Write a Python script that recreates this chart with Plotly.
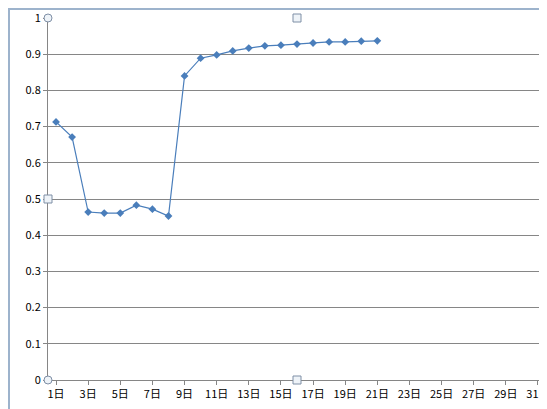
import plotly.graph_objects as go

days = [f"{i}日" for i in range(1, 32)]
values = [0.713, 0.671, 0.464, 0.461, 0.461, 0.483, 0.472, 0.453, 0.840, 0.889,
          0.898, 0.909, 0.917, 0.923, 0.925, 0.928, 0.931, 0.934, 0.934, 0.936, 0.937]
tick_labels = [days[i] for i in range(0, 31, 2)]
y_ticks = [i / 10 for i in range(11)]
y_labels = ["0", "0.1", "0.2", "0.3", "0.4", "0.5", "0.6", "0.7", "0.8", "0.9", "1"]

fig = go.Figure(go.Scatter(
    x=days[:len(values)], y=values, mode="lines+markers",
    line=dict(color="#4a7ebb", width=1.2),
    marker=dict(symbol="diamond", size=6, color="#4a7ebb"),
))
fig.update_layout(
    width=547, height=409, margin=dict(l=40, r=9, t=10, b=37),
    paper_bgcolor="white", plot_bgcolor="white", showlegend=False,
    font=dict(family="Noto Sans CJK SC", size=11, color="black"),
    xaxis=dict(type="category", categoryorder="array", categoryarray=days,
               range=[-0.5, 30.5], tickvals=tick_labels, ticktext=tick_labels,
               showgrid=False, showline=True, linecolor="#868686", ticks="outside",
               ticklen=4, tickcolor="#868686", automargin=False),
    yaxis=dict(range=[0, 1], tickvals=y_ticks, ticktext=y_labels, showgrid=True,
               gridcolor="#868686", gridwidth=1, showline=True, linecolor="#868686",
               ticks="outside", ticklen=4, tickcolor="#868686", zeroline=False,
               automargin=False),
)
shapes = [dict(type="rect", xref="paper", yref="paper", x0=-39/498, x1=1+8/498,
               y0=-35/362, y1=1+9/362, line=dict(color="#9db3cc", width=2))]
for (px, py, kind) in [(0, 1, "circle"), (0.5, 1, "rect"), (1, 1, "circle"),
                       (0, 0.5, "rect"), (1, 0.5, "rect"),
                       (0, 0, "circle"), (0.5, 0, "rect"), (1, 0, "circle")]:
    shapes.append(dict(type=kind, xref="paper", yref="paper", xsizemode="pixel",
                       ysizemode="pixel", xanchor=px, yanchor=py,
                       x0=-4, x1=4, y0=-4, y1=4,
                       line=dict(color="#7f8fa6", width=1), fillcolor="#eef3f8"))
fig.update_layout(shapes=shapes)
fig.write_html("out.html")
